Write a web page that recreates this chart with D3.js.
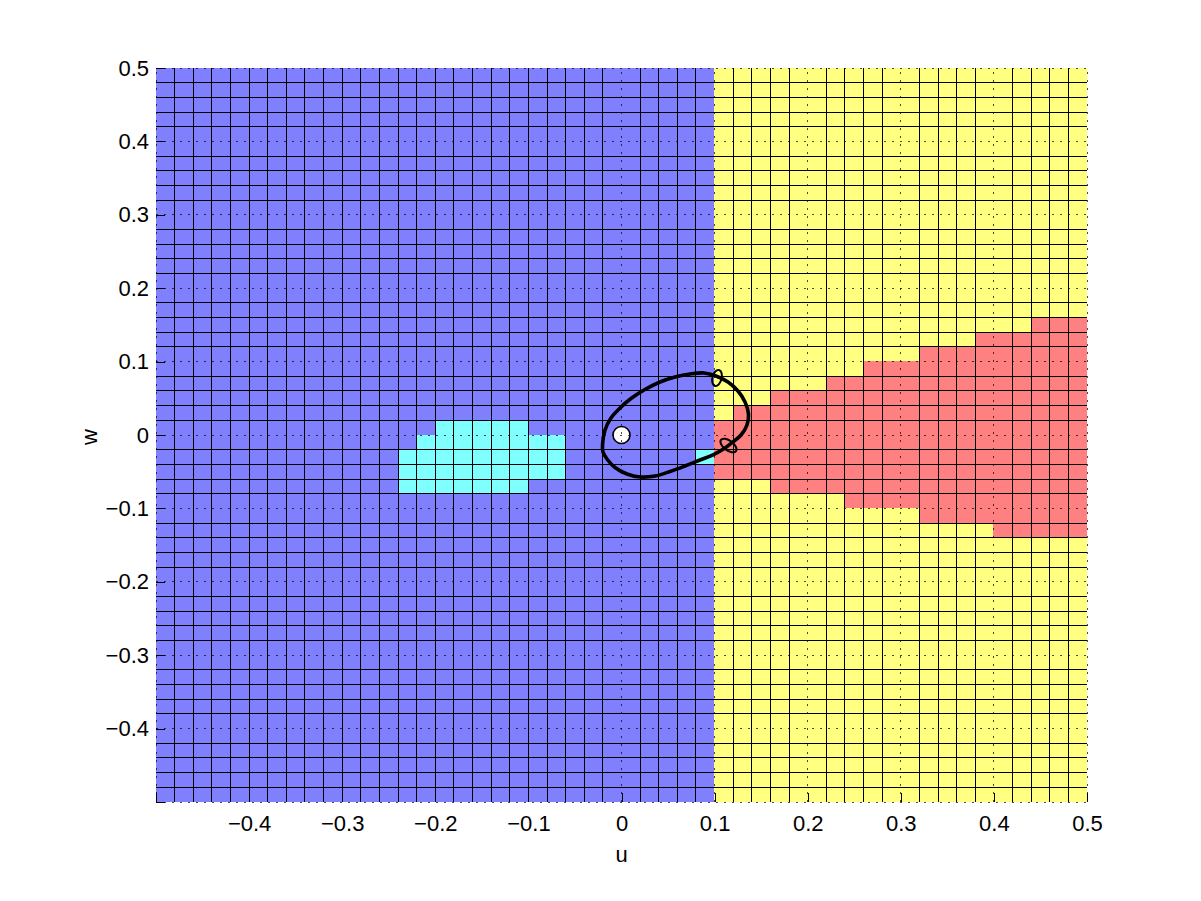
<!DOCTYPE html>
<html><head><meta charset="utf-8">
<script src="https://cdn.jsdelivr.net/npm/d3@7"></script>
<style>body{margin:0;background:#fff}</style>
</head><body>
<svg id="chart" width="1201" height="901"></svg>
<script>
// ---------- data ----------
const uTicks = [-0.5,-0.4,-0.3,-0.2,-0.1,0,0.1,0.2,0.3,0.4,0.5];
const uTickLabels = ["","−0.4","−0.3","−0.2","−0.1","0","0.1","0.2","0.3","0.4","0.5"];
const wTicks = [-0.5,-0.4,-0.3,-0.2,-0.1,0,0.1,0.2,0.3,0.4,0.5];
const wTickLabels = ["","−0.4","−0.3","−0.2","−0.1","0","0.1","0.2","0.3","0.4","0.5"];
const gridStep = 0.02;             // mesh resolution of the cell plot
const regionBoundaryU = 0.1;       // blue for u < 0.1, yellow for u >= 0.1
// red cells: [lower w edge of row, first u of red run]  (run extends to u = 0.5)
const redRows = [
  [0.14,0.44],[0.12,0.38],[0.10,0.32],[0.08,0.26],[0.06,0.22],[0.04,0.16],
  [0.02,0.12],[0.00,0.10],[-0.02,0.10],[-0.04,0.10],[-0.06,0.10],
  [-0.08,0.16],[-0.10,0.24],[-0.12,0.32],[-0.14,0.40]
];
// cyan cells: [lower w edge of row, u start, u end]
const cyanRows = [
  [0.00,-0.20,-0.10],[-0.02,-0.22,-0.06],[-0.04,-0.24,-0.06],
  [-0.06,-0.24,-0.06],[-0.08,-0.24,-0.10],[-0.04,0.08,0.10]
];
// closed trajectory (u, w)
const orbitU = [-0.0204,-0.0177,-0.0113,-0.0016,0.0102,0.0252,0.0414,0.0575,0.0736,0.0886,0.1015,0.1144,0.1251,0.1327,0.1364,0.1348,0.1284,0.1198,0.1112,0.0983,0.0843,0.0682,0.0521,0.0360,0.0199,0.0059,-0.0070,-0.0156,-0.0199];
const orbitW = [-0.0136,0.0068,0.0232,0.0368,0.0497,0.0620,0.0722,0.0790,0.0831,0.0845,0.0804,0.0722,0.0599,0.0450,0.0286,0.0136,0.0000,-0.0095,-0.0177,-0.0272,-0.0341,-0.0422,-0.0497,-0.0559,-0.0572,-0.0531,-0.0443,-0.0327,-0.0232];
// small ellipse markers on the trajectory
const markerU = [0.1026, 0.1149];
const markerW = [0.0777, -0.0143];
// equilibrium point
const eqU = [0];
const eqW = [0];

const colors = {blue:"#8080ff", yellow:"#ffff80", red:"#ff8080", cyan:"#80ffff"};

// ---------- layout ----------
const svg = d3.select("#chart");
const L = 156, R = 1087, T = 68, B = 802;
const x = d3.scaleLinear().domain([-0.5,0.5]).range([L,R]);
const y = d3.scaleLinear().domain([-0.5,0.5]).range([B,T]);
const eps = 1e-6;
const near = (a,b) => Math.abs(a-b) < eps;

// mesh
const edges = d3.range(-0.5, 0.5 + eps, gridStep).map(v => Math.round(v*100)/100);
const cells = [];
for (let i = 0; i < edges.length-1; i++) {
  for (let j = 0; j < edges.length-1; j++) {
    const u = edges[i], w = edges[j];
    let c = u < regionBoundaryU - eps ? "blue" : "yellow";
    redRows.forEach(([wl, us]) => { if (near(w, wl) && u >= us - eps) c = "red"; });
    cyanRows.forEach(([wl, us, ue]) => { if (near(w, wl) && u >= us - eps && u < ue - eps) c = "cyan"; });
    cells.push({u0:u, u1:edges[i+1], w0:w, w1:edges[j+1], c});
  }
}
const px = v => Math.floor(x(v));
const py = v => Math.floor(y(v));
svg.append("g").selectAll("rect").data(cells).join("rect")
  .attr("x", d => px(d.u0)).attr("y", d => py(d.w1))
  .attr("width", d => px(d.u1) - px(d.u0)).attr("height", d => py(d.w0) - py(d.w1))
  .attr("fill", d => colors[d.c]).attr("shape-rendering","crispEdges");

// solid cell edges (edges at tenths are not drawn, except negative u verticals)
const isTenth = v => near(Math.round(v*10)/10, v);
const vEdges = edges.filter(v => !(isTenth(v) && v >= -eps) && !near(v,-0.5));
const hEdges = edges.filter(v => !isTenth(v));
const gLines = svg.append("g").attr("stroke","#000").attr("stroke-width",1).attr("shape-rendering","crispEdges");
gLines.selectAll("line.v").data(vEdges).join("line").attr("class","v")
  .attr("x1", d => Math.floor(x(d))+0.5).attr("x2", d => Math.floor(x(d))+0.5)
  .attr("y1", T).attr("y2", B);
gLines.selectAll("line.h").data(hEdges).join("line").attr("class","h")
  .attr("y1", d => Math.floor(y(d))+0.5).attr("y2", d => Math.floor(y(d))+0.5)
  .attr("x1", L).attr("x2", R);

// trajectory
const line = d3.line().x(d => x(d[0])).y(d => y(d[1])).curve(d3.curveCatmullRomClosed.alpha(0.5));
svg.append("path").datum(orbitU.map((u,i) => [u, orbitW[i]]))
  .attr("d", line).attr("fill","none").attr("stroke","#000").attr("stroke-width",3.6)
  .attr("stroke-linejoin","round");

// small ellipse markers
const markerShape = [{rx:4.6, ry:8.2, rot:14}, {rx:9.4, ry:4.8, rot:37}];
svg.append("g").selectAll("ellipse").data(markerU.map((u,i)=>({u, w:markerW[i], s:markerShape[i]}))).join("ellipse")
  .attr("transform", d => `translate(${x(d.u)},${y(d.w)}) rotate(${d.s.rot})`)
  .attr("rx", d => d.s.rx).attr("ry", d => d.s.ry)
  .attr("fill","none").attr("stroke","#000").attr("stroke-width",2);

// equilibrium marker
svg.append("g").selectAll("circle").data(eqU.map((u,i)=>({u, w:eqW[i]}))).join("circle")
  .attr("cx", d => x(d.u)).attr("cy", d => y(d.w)).attr("r", 8.5)
  .attr("fill","#fff").attr("stroke","#000").attr("stroke-width",1.6);

// dotted grid at ticks
const gGrid = svg.append("g").attr("stroke","#000").attr("stroke-opacity",0.7)
  .attr("stroke-width",1).attr("stroke-dasharray","2,6").attr("shape-rendering","crispEdges");
gGrid.selectAll("line.v").data(uTicks).join("line").attr("class","v")
  .attr("x1", d => Math.floor(x(d))+0.5).attr("x2", d => Math.floor(x(d))+0.5).attr("y1", B).attr("y2", T);
gGrid.selectAll("line.h").data(wTicks).join("line").attr("class","h")
  .attr("y1", d => Math.floor(y(d))+0.5).attr("y2", d => Math.floor(y(d))+0.5).attr("x1", L).attr("x2", R);

// axes
const font = "'Liberation Sans', Arial, sans-serif";
const xAxis = d3.axisBottom(x).tickValues(uTicks).tickSize(-9).tickPadding(13)
  .tickFormat((d,i) => uTickLabels[i]);
const yAxis = d3.axisLeft(y).tickValues(wTicks).tickSize(-9).tickPadding(7)
  .tickFormat((d,i) => wTickLabels[i]);
const gx = svg.append("g").attr("transform",`translate(0,${B})`).call(xAxis);
const gy = svg.append("g").attr("transform",`translate(${L},0)`).call(yAxis);
[gx, gy].forEach(g => {
  g.select(".domain").remove();
  g.selectAll("line").attr("stroke","#000").attr("shape-rendering","crispEdges");
  g.selectAll("text").attr("fill","#000").style("font-family",font).style("font-size","22px");
});

svg.append("text").attr("x", x(0)).attr("y", 862).attr("text-anchor","middle")
  .style("font-family",font).style("font-size","22px").text("u");
svg.append("text").attr("transform","translate(97,437) rotate(-90)").attr("text-anchor","middle")
  .style("font-family",font).style("font-size","22px").text("w");
</script>
</body></html>
